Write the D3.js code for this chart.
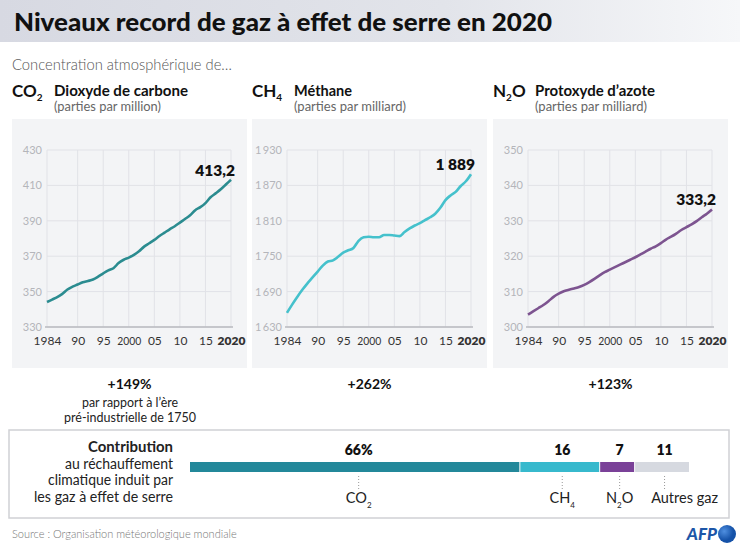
<!DOCTYPE html>
<html><head><meta charset="utf-8">
<script src="https://cdn.jsdelivr.net/npm/d3@7"></script>
<style>
html,body{margin:0;padding:0;background:#fff;}
svg{display:block;font-family:Lato,"Open Sans",sans-serif;}
</style></head>
<body><svg id="c" width="740" height="548"></svg>
<script>
// ---------- data ----------
const years = d3.range(1984, 2021);
const co2Values = [344.1,345.5,346.9,348.7,351.2,352.8,354.0,355.3,356.0,356.8,358.4,360.3,362.0,363.2,366.1,368.0,369.2,370.8,372.8,375.4,377.3,379.2,381.4,383.3,385.2,386.9,389.0,391.0,393.1,396.0,397.7,400.0,403.3,405.5,407.8,410.5,413.2];
const ch4Values = [1654,1668,1681,1693,1704,1714,1724,1734,1741,1743,1749,1756,1760,1764,1776,1782,1783,1782,1782,1786,1786,1785,1784,1791,1797,1802,1806,1811,1816,1822,1832,1845,1853,1859,1869,1877,1889];
const n2oValues = [303.5,304.4,305.3,306.2,307.3,308.5,309.4,310.1,310.5,310.9,311.3,311.9,312.7,313.6,314.6,315.5,316.2,316.9,317.6,318.3,319.0,319.7,320.5,321.3,322.1,322.8,323.7,324.7,325.5,326.4,327.4,328.2,329.0,329.9,331.0,332.0,333.2];
const xTickYears = [1984,1990,1995,2000,2005,2010,2015,2020];
const xTickLabels = ["1984","90","95","2000","05","10","15","2020"];
const co2Ticks = [330,350,370,390,410,430];
const ch4Ticks = [1630,1690,1750,1810,1870,1930];
const n2oTicks = [300,310,320,330,340,350];
const endLabels = ["413,2","1 889","333,2"];
const gasNames = ["Dioxyde de carbone","Méthane","Protoxyde d’azote"];
const gasUnits = ["(parties par million)","(parties par milliard)","(parties par milliard)"];
const increases = ["+149%","+262%","+123%"];
const shareGases = ["CO2","CH4","N2O","Autres gaz"];
const shareValues = [66,16,7,11];
const shareLabels = ["66%","16","7","11"];

const svg = d3.select("#c");
const loc = d3.formatLocale({decimal:",",thousands:"\u2009",grouping:[3],currency:["","€"]});
const fmtInt = loc.format(",d");

// helper: set text to an exact width
function fit(sel, w){ sel.each(function(){ const l=this.getComputedTextLength(); if(Math.abs(l-w)>1){ d3.select(this).attr("textLength",w).attr("lengthAdjust","spacingAndGlyphs"); } }); return sel; }

// ---------- title bar ----------
const defs = svg.append("defs");
const g1 = defs.append("linearGradient").attr("id","tb").attr("x1","0").attr("x2","1");
g1.append("stop").attr("offset","0").attr("stop-color","#d7d9e2");
g1.append("stop").attr("offset","0.6").attr("stop-color","#e2e4ea");
g1.append("stop").attr("offset","1").attr("stop-color","#f6f7f9");
svg.append("rect").attr("x",0).attr("y",0).attr("width",740).attr("height",42).attr("fill","url(#tb)");
fit(svg.append("text").attr("x",14).attr("y",31).attr("font-size",25).attr("font-weight",900).attr("fill","#111")
  .text("Niveaux record de gaz à effet de serre en 2020"), 538);

fit(svg.append("text").attr("x",12).attr("y",70).attr("font-size",15).attr("font-weight",300).attr("fill","#555")
  .text("Concentration atmosphérique de…"), 220);

// ---------- panels ----------
const panelX = [12,252,493];
const panelW = 235;
const panelTop = 119, panelBot = 368;
const plotTop = 150, plotBot = 327;
const series = [
  {vals:co2Values, ticks:co2Ticks, color:"#2b8c90", fmt:d=>String(d), sym:["CO","2",""]},
  {vals:ch4Values, ticks:ch4Ticks, color:"#45c1cc", fmt:d=>fmtInt(d), sym:["CH","4",""]},
  {vals:n2oValues, ticks:n2oTicks, color:"#7d5490", fmt:d=>String(d), sym:["N","2","O"]}
];

series.forEach((s,i)=>{
  const px = panelX[i];
  // header
  const h = svg.append("text").attr("x",px).attr("y",97).attr("font-size",17).attr("font-weight",700).attr("fill","#111");
  h.append("tspan").text(s.sym[0]);
  h.append("tspan").attr("font-size",10).attr("dy",4).text(s.sym[1]);
  if(s.sym[2]) h.append("tspan").attr("dy",-4).text(s.sym[2]);
  const nameW = [134,59,120][i];
  fit(svg.append("text").attr("x",px+42).attr("y",96).attr("font-size",14.5).attr("font-weight",700).attr("fill","#111").text(gasNames[i]), nameW);
  fit(svg.append("text").attr("x",px+42).attr("y",111).attr("font-size",13).attr("fill","#666").text(gasUnits[i]), [107,112,112][i]);

  svg.append("rect").attr("x",px).attr("y",panelTop).attr("width",panelW).attr("height",panelBot-panelTop).attr("fill","#f3f4f6");

  const x = d3.scaleLinear().domain([1984,2020]).range([px+35, px+219]);
  const y = d3.scaleLinear().domain([s.ticks[0], s.ticks[s.ticks.length-1]]).range([plotBot, plotTop]);
  const g = svg.append("g");
  // grid
  g.selectAll(".vg").data(xTickYears).join("line")
    .attr("x1",d=>x(d)).attr("x2",d=>x(d)).attr("y1",plotTop).attr("y2",plotBot)
    .attr("stroke","#e1e2e7").attr("stroke-width",1);
  g.selectAll(".hg").data(s.ticks).join("line")
    .attr("x1",x(1984)).attr("x2",x(2020)).attr("y1",d=>y(d)).attr("y2",d=>y(d))
    .attr("stroke","#e1e2e7").attr("stroke-width",1);
  // y axis labels
  const ya = g.append("g").attr("transform",`translate(${x(1984)},0)`)
    .call(d3.axisLeft(y).tickValues(s.ticks).tickFormat(s.fmt).tickSize(0).tickPadding(5));
  ya.select(".domain").remove();
  ya.selectAll("text").attr("font-family","Lato, sans-serif").attr("font-size",11).attr("fill","#b4b5ba");
  // x axis
  const xa = g.append("g").attr("transform",`translate(0,${plotBot})`)
    .call(d3.axisBottom(x).tickValues(xTickYears).tickFormat((d,k)=>xTickLabels[k]).tickSize(0).tickPadding(9));
  xa.select(".domain").remove();
  xa.selectAll("text").attr("font-family","Lato, sans-serif").attr("font-size",12).attr("fill","#333")
    .attr("font-weight",(d)=>d===2020?800:400);
  xa.selectAll("text").each(function(d){ if(d===2000){ fit(d3.select(this),24); } });
  g.append("line").attr("x1",x(1984)-2).attr("x2",x(2020)+2).attr("y1",plotBot).attr("y2",plotBot)
    .attr("stroke","#b9babf").attr("stroke-width",1.3);
  // line
  const line = d3.line().x((d,k)=>x(years[k])).y(d=>y(d)).curve(d3.curveMonotoneX);
  g.append("path").datum(s.vals).attr("d",line).attr("fill","none").attr("stroke",s.color).attr("stroke-width",2.6);
  // end label
  const last = s.vals[s.vals.length-1];
  g.append("text").attr("x",x(2020)+4).attr("y",y(last)-4).attr("text-anchor","end")
    .attr("font-size",15.5).attr("font-weight",800).attr("fill","#111").text(endLabels[i]);
  // increase
  svg.append("text").attr("x",px+panelW/2).attr("y",389).attr("text-anchor","middle")
    .attr("font-size",14).attr("font-weight",700).attr("fill","#111").text(increases[i]);
});
fit(svg.append("text").attr("x",130).attr("y",407).attr("text-anchor","middle").attr("font-size",13).attr("fill","#222").text("par rapport à l’ère"),96);
fit(svg.append("text").attr("x",130).attr("y",422).attr("text-anchor","middle").attr("font-size",13).attr("fill","#222").text("pré-industrielle de 1750"),132);

// ---------- contribution box ----------
svg.append("rect").attr("x",9).attr("y",430).attr("width",720).attr("height",88)
  .attr("fill","#fff").attr("stroke","#d0d1d5").attr("stroke-width",1.5);
const leftLines = ["Contribution","au réchauffement","climatique induit par","les gaz à effet de serre"];
const leftW = [85,108,125,139];
leftLines.forEach((t,k)=>{
  fit(svg.append("text").attr("x",173).attr("y",[452,469,485,502][k]).attr("text-anchor","end")
    .attr("font-size",14.5).attr("font-weight",k===0?700:400).attr("fill","#222").text(t), leftW[k]);
});
const xs = d3.scaleLinear().domain([0,100]).range([190,689]);
const cum = []; let acc=0; shareValues.forEach(v=>{cum.push(acc); acc+=v;});
const segColors = ["#23889a","#37b9cd","#7a4198","#d6d9e0"];
svg.selectAll(".seg").data(shareValues).join("rect")
  .attr("x",(d,k)=>xs(cum[k])+(k?1:0)).attr("y",462).attr("width",(d,k)=>xs(d)-xs(0)-(k?1:0)).attr("height",10)
  .attr("fill",(d,k)=>segColors[k]);
svg.selectAll(".sl").data(shareValues).join("text")
  .attr("x",(d,k)=>xs(cum[k]+d/2)+ (k===0?4:3)).attr("y",455).attr("text-anchor","middle")
  .attr("font-size",14).attr("font-weight",800).attr("fill","#111").text((d,k)=>shareLabels[k]);
svg.selectAll(".dl").data(shareValues).join("line")
  .attr("x1",(d,k)=>xs(cum[k]+d/2)+(k===0?4:3)).attr("x2",(d,k)=>xs(cum[k]+d/2)+(k===0?4:3))
  .attr("y1",476).attr("y2",490).attr("stroke","#999").attr("stroke-dasharray","1,2");
shareGases.forEach((gname,k)=>{
  const cx = xs(cum[k]+shareValues[k]/2)+(k===0?4:3) + (k===3?20:0);
  const t = svg.append("text").attr("x",cx).attr("y",503).attr("text-anchor","middle").attr("font-size",14.5).attr("fill","#222");
  const m = gname.match(/^([A-Z]+)(\d)([A-Z]*)$/);
  if(m){ t.append("tspan").text(m[1]); t.append("tspan").attr("font-size",8).attr("dy",5).text(m[2]); if(m[3]) t.append("tspan").attr("dy",-5).text(m[3]); }
  else t.text(gname);
});

// ---------- footer ----------
svg.append("text").attr("x",12).attr("y",538).attr("font-size",11).attr("font-weight",300).attr("fill","#777")
  .text("Source : Organisation météorologique mondiale");
svg.append("text").attr("x",717).attr("y",540).attr("text-anchor","end").attr("font-size",17).attr("font-weight",900)
  .attr("font-style","italic").attr("fill","#1c56a8").text("AFP");
const g2 = defs.append("radialGradient").attr("id","afp").attr("cx","0.35").attr("cy","0.35");
g2.append("stop").attr("offset","0").attr("stop-color","#4f8fe0");
g2.append("stop").attr("offset","1").attr("stop-color","#1552a8");
svg.append("circle").attr("cx",727).attr("cy",534).attr("r",9).attr("fill","url(#afp)");
</script></body></html>
